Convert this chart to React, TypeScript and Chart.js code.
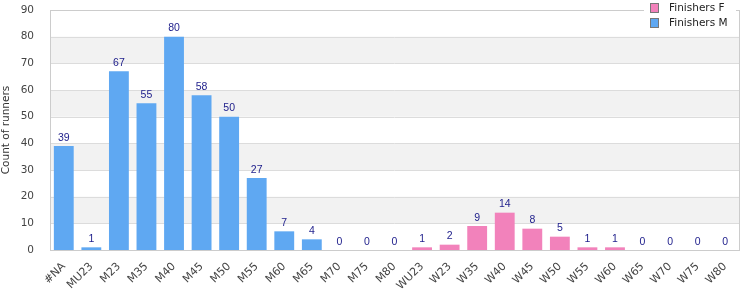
import React, { useEffect, useRef } from "react";
import { Chart, registerables } from "chart.js";

Chart.register(...registerables);

const categories = ["#NA","MU23","M23","M35","M40","M45","M50","M55","M60","M65","M70","M75","M80","WU23","W23","W35","W40","W45","W50","W55","W60","W65","W70","W75","W80"];
const finishersM = [39,1,67,55,80,58,50,27,7,4,0,0,0,null,null,null,null,null,null,null,null,null,null,null,null];
const finishersF = [null,null,null,null,null,null,null,null,null,null,null,null,null,1,2,9,14,8,5,1,1,0,0,0,0];
const yTicks = [0,10,20,30,40,50,60,70,80,90];

const BLUE = "#5fa8f2";
const PINK = "#f282bb";
const FONT = "'DejaVu Sans', Verdana, sans-serif";
const LFONT = "'Liberation Sans', Arial, sans-serif";

const bandsPlugin = {
  id: "bands",
  beforeDatasetsDraw(chart: any) {
    const { ctx, chartArea: a, scales } = chart;
    const y = scales.y;
    ctx.save();
    for (let i = 0; i < yTicks.length - 1; i++) {
      const top = y.getPixelForValue(yTicks[i + 1]);
      const bot = y.getPixelForValue(yTicks[i]);
      if (i % 2 === 1) {
        ctx.fillStyle = "#f2f2f2";
        ctx.fillRect(a.left, top, a.right - a.left, bot - top);
      }
    }
    ctx.strokeStyle = "#dcdcdc";
    ctx.lineWidth = 1;
    for (const t of yTicks) {
      const py = Math.round(y.getPixelForValue(t)) + 0.5;
      ctx.beginPath();
      ctx.moveTo(a.left, py);
      ctx.lineTo(a.right, py);
      ctx.stroke();
    }
    ctx.strokeStyle = "#cccccc";
    ctx.strokeRect(Math.round(a.left) + 0.5, Math.round(a.top) + 0.5, Math.round(a.right - a.left), Math.round(a.bottom - a.top));
    ctx.restore();
  },
};

const labelsPlugin = {
  id: "valLabels",
  afterDatasetsDraw(chart: any) {
    const { ctx } = chart;
    ctx.save();
    ctx.font = `10.5px ${LFONT}`;
    ctx.fillStyle = "#1c1c8a";
    ctx.textAlign = "center";
    ctx.textBaseline = "bottom";
    chart.data.datasets.forEach((ds: any, di: number) => {
      const meta = chart.getDatasetMeta(di);
      meta.data.forEach((bar: any, i: number) => {
        const v = ds.data[i];
        if (v === null || v === undefined) return;
        ctx.fillText(String(v), bar.x, bar.y - 3);
      });
    });
    // legend
    const lx = 644, ly = 0, lw = 92, lh = 34;
    ctx.fillStyle = "#ffffff";
    ctx.fillRect(lx, ly, lw, lh);
    ctx.font = `10.5px ${FONT}`;
    const items = [["Finishers F", PINK], ["Finishers M", BLUE]];
    items.forEach(([txt, col], k) => {
      const yy = 8 + k * 15;
      ctx.fillStyle = col;
      ctx.fillRect(651, yy - 4, 7, 8);
      ctx.strokeStyle = "#777777";
      ctx.lineWidth = 1;
      ctx.strokeRect(650.5, yy - 4.5, 8, 9);
      ctx.fillStyle = "#222222";
      ctx.textAlign = "left";
      ctx.textBaseline = "middle";
      ctx.fillText(txt, 669, yy);
    });
    ctx.restore();
  },
};

export default function App() {
  const ref = useRef<HTMLCanvasElement>(null);
  useEffect(() => {
    document.body.style.margin = "0";
    const chart = new Chart(ref.current!, {
      type: "bar",
      data: {
        labels: categories,
        datasets: [
          { label: "Finishers M", data: finishersM as any, backgroundColor: BLUE, barPercentage: 0.72, categoryPercentage: 1 },
          { label: "Finishers F", data: finishersF as any, backgroundColor: PINK, barPercentage: 0.72, categoryPercentage: 1 },
        ],
      },
      options: {
        responsive: false,
        animation: false,
        layout: { padding: { top: 10, right: 11, left: 0, bottom: 0 } },
        plugins: { legend: { display: false }, tooltip: { enabled: false } },
        scales: {
          x: {
            stacked: true,
            grid: { display: false },
            border: { display: false },
            ticks: { color: "#444", font: { family: FONT, size: 11 }, maxRotation: 45, minRotation: 45, padding: 2, autoSkip: false },
            afterFit(s: any) { s.height = 50; },
          },
          y: {
            stacked: true,
            min: 0,
            max: 90,
            grid: { display: false },
            border: { display: false },
            ticks: { stepSize: 10, color: "#444", font: { family: FONT, size: 10.5 }, padding: 8 },
            title: { display: true, text: "Count of runners", color: "#333", font: { family: FONT, size: 10.5 }, padding: 0 },
            afterFit(s: any) { s.width = 50; s.paddingTop = 0; s.paddingBottom = 0; },
          },
        },
      },
      plugins: [bandsPlugin, labelsPlugin],
    });
    return () => chart.destroy();
  }, []);
  return (
    <div style={{ width: 750, height: 300 }}>
      <canvas ref={ref} width={750} height={300} style={{ display: "block" }} />
    </div>
  );
}
